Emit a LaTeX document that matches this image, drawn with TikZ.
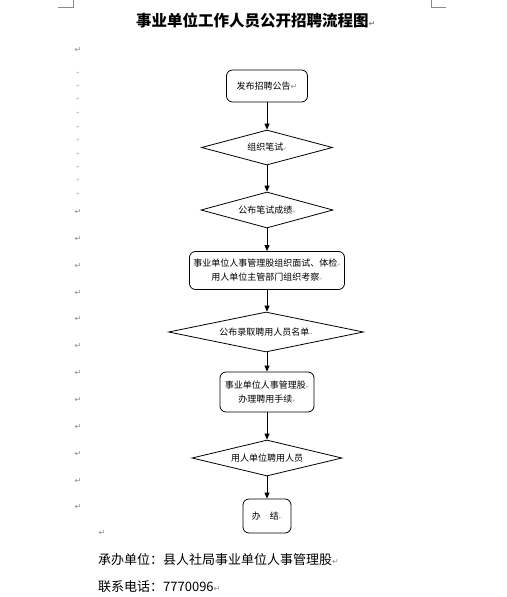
\documentclass[tikz,border=0pt]{standalone}
\usepackage{fontspec}
\setmainfont{Noto Sans CJK SC}
\newfontfamily\symf{DejaVu Sans}
\usetikzlibrary{shapes.geometric,arrows.meta}
\definecolor{markgray}{HTML}{8A8A8A}
\newcommand{\parmk}{{\symf\fontsize{8}{8}\selectfont\color{markgray}↵}}
\newcommand{\parmks}{{\symf\fontsize{4}{4}\selectfont\color{markgray}↵}}
\tikzset{
  box/.style={draw, line width=0.8pt, rounded corners=6pt, fill=white, inner sep=0pt,
    font=\fontsize{9}{14}\selectfont, align=center},
  dia/.style={draw, diamond, line width=0.8pt, fill=white, inner sep=0pt,
    font=\fontsize{9}{14}\selectfont},
  conn/.style={-{Triangle[length=6pt,width=5pt]}, line width=0.8pt},
  retbig/.style={inner sep=0pt, font=\symf\fontsize{8}{8}\selectfont, text=markgray},
  retsmall/.style={inner sep=0pt, font=\symf\fontsize{4}{4}\selectfont, text=markgray},
  cornerline/.style={draw=markgray, line width=0.6pt}
}
\begin{document}
\begin{tikzpicture}[x=1pt,y=-1pt]
\useasboundingbox (0,0) rectangle (506,597);
% page corner marks
\coordinate (c1a) at (58,7); \coordinate (c1b) at (73,7); \coordinate (c1c) at (73,0);
\coordinate (c2a) at (431,0); \coordinate (c2b) at (431,7); \coordinate (c2c) at (446,7);
\draw[cornerline] (c1a) -- (c1b) -- (c1c);
\draw[cornerline] (c2a) -- (c2b) -- (c2c);
% title
\node[anchor=west, inner sep=0pt, font=\fontsize{15.5}{16}\selectfont\bfseries] (title) at (136,21)
  {事业单位工作人员公开招聘流程图\parmk};
% flow nodes
\node[box, minimum width=81pt, minimum height=32pt] (b1) at (267,86) {发布招聘公告\parmk};
\node[dia, aspect=3.7, minimum width=131pt, minimum height=35pt] (d2) at (267,147.5) {组织笔试\parmks};
\node[dia, aspect=3.7, minimum width=132pt, minimum height=36pt] (d3) at (267,210) {公布笔试成绩\parmks};
\node[box, minimum width=155pt, minimum height=38pt] (b4) at (267,270.5)
  {事业单位人事管理股组织面试、体检\parmks\\用人单位主管部门组织考察\parmks};
\node[dia, aspect=4.9, minimum width=195pt, minimum height=40pt] (d5) at (266,332) {公布录取聘用人员名单\parmks};
\node[box, minimum width=94pt, minimum height=40pt] (b6) at (267,392)
  {事业单位人事管理股\parmks\\办理聘用手续\parmks};
\node[dia, aspect=4.2, minimum width=150pt, minimum height=36pt] (d7) at (267,458) {用人单位聘用人员};
\node[box, minimum width=48pt, minimum height=34pt] (b8) at (267,516) {办\hspace{9pt}结\parmks};
% connectors
\draw[conn] (b1) -- (d2);
\draw[conn] (d2) -- (d3);
\draw[conn] (d3) -- (b4);
\draw[conn] (b4) -- (d5.north -| b4.south);
\draw[conn] (d5.south -| b6.north) -- (b6);
\draw[conn] (b6) -- (d7);
\draw[conn] (d7) -- (b8);
% footer
\node[anchor=west, inner sep=0pt, font=\fontsize{13}{14}\selectfont] (f1) at (98,560)
  {承办单位：县人社局事业单位人事管理股\parmk};
\node[anchor=west, inner sep=0pt, font=\fontsize{13}{14}\selectfont] (f2) at (98,587)
  {联系电话：7770096\parmk};
% paragraph marks on the left
\foreach \yy [count=\i] in {50,212,239,266,293,319,346,373,400,427,454,481,507}
  \node[retbig] (pb\i) at (78,\yy) {↵};
\node[retbig] (pbx) at (102,533) {↵};
\foreach \yy [count=\i] in {73,86,99,113,127,140,154,167,180,194}
  \node[retsmall] (ps\i) at (78,\yy) {↵};
\end{tikzpicture}
\end{document}
